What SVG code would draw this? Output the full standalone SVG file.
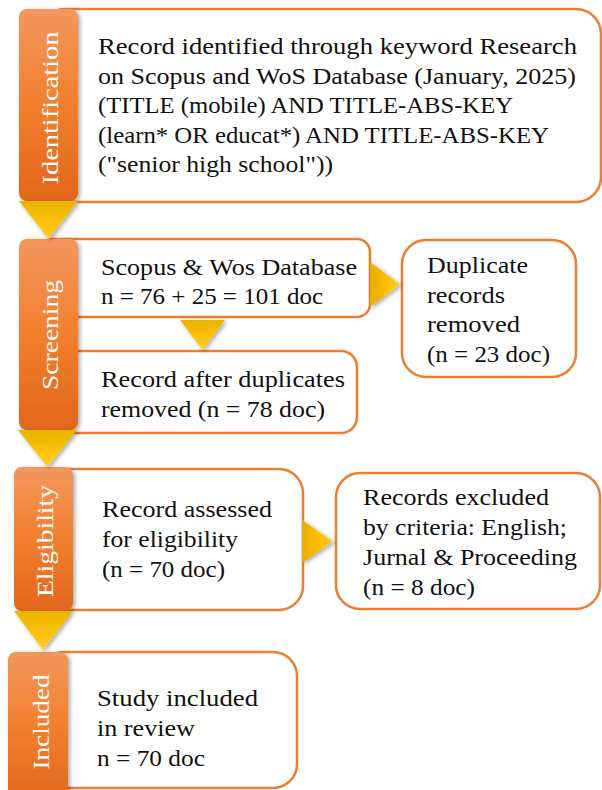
<svg xmlns="http://www.w3.org/2000/svg" width="602" height="790" viewBox="0 0 602 790">
<defs>
<linearGradient id="tabGrad" x1="0" y1="0" x2="0" y2="1">
<stop offset="0" stop-color="#f3975e"/>
<stop offset="0.5" stop-color="#f27f2e"/>
<stop offset="1" stop-color="#e3661b"/>
</linearGradient>
<linearGradient id="triDown" x1="0" y1="0" x2="0" y2="1">
<stop offset="0" stop-color="#e8b400"/>
<stop offset="0.6" stop-color="#ffc20a"/>
<stop offset="1" stop-color="#ffcc33"/>
</linearGradient>
<linearGradient id="triRight" x1="0" y1="0" x2="1" y2="0">
<stop offset="0" stop-color="#e6ae00"/>
<stop offset="0.6" stop-color="#ffc000"/>
<stop offset="1" stop-color="#ffc933"/>
</linearGradient>
<filter id="shadow" x="-30%" y="-10%" width="160%" height="130%">
<feDropShadow dx="2" dy="1.5" stdDeviation="2" flood-color="#000" flood-opacity="0.35"/>
</filter>
</defs>
<style>
.box{fill:#ffffff;stroke:#ed7d31;stroke-width:2.5}
.tab{fill:url(#tabGrad);filter:url(#shadow)}
.tabtxt{font-family:"Liberation Serif","Times New Roman",serif;font-size:24px;fill:#ffffff;text-anchor:middle}
.txt{font-family:"Liberation Serif","Times New Roman",serif;font-size:23.5px;fill:#111111}
.td{fill:url(#triDown);filter:url(#shadow)}
.tr{fill:url(#triRight);filter:url(#shadow)}
</style>

<g id="identification-box">
<rect class="box" x="40" y="9" width="561" height="193" rx="25"/>
<text class="txt" x="98" y="54" textLength="479" lengthAdjust="spacingAndGlyphs">Record identified through keyword Research</text>
<text class="txt" x="98" y="83.5" textLength="478" lengthAdjust="spacingAndGlyphs">on Scopus and WoS Database (January, 2025)</text>
<text class="txt" x="98" y="113" textLength="415" lengthAdjust="spacingAndGlyphs">(TITLE (mobile) AND TITLE-ABS-KEY</text>
<text class="txt" x="98" y="142.5" textLength="451" lengthAdjust="spacingAndGlyphs">(learn* OR educat*) AND TITLE-ABS-KEY</text>
<text class="txt" x="98" y="172" textLength="235" lengthAdjust="spacingAndGlyphs">("senior high school"))</text>
</g>

<g id="screening-database-box">
<rect class="box" x="40" y="239" width="330" height="78" rx="13"/>
<text class="txt" x="101" y="275" textLength="256" lengthAdjust="spacingAndGlyphs">Scopus &amp; Wos Database</text>
<text class="txt" x="101" y="304" textLength="222" lengthAdjust="spacingAndGlyphs">n = 76 + 25 = 101 doc</text>
</g>

<g id="screening-after-duplicates-box">
<rect class="box" x="40" y="351" width="317" height="82" rx="16"/>
<text class="txt" x="101" y="387" textLength="244" lengthAdjust="spacingAndGlyphs">Record after duplicates</text>
<text class="txt" x="101" y="417" textLength="224" lengthAdjust="spacingAndGlyphs">removed (n = 78 doc)</text>
</g>

<g id="duplicates-removed-box">
<rect class="box" x="402" y="240" width="174" height="137" rx="24"/>
<text class="txt" x="427" y="273" textLength="101" lengthAdjust="spacingAndGlyphs">Duplicate</text>
<text class="txt" x="427" y="302.5" textLength="78" lengthAdjust="spacingAndGlyphs">records</text>
<text class="txt" x="427" y="332" textLength="93" lengthAdjust="spacingAndGlyphs">removed</text>
<text class="txt" x="427" y="361.5" textLength="123" lengthAdjust="spacingAndGlyphs">(n = 23 doc)</text>
</g>

<g id="eligibility-box">
<rect class="box" x="40" y="469" width="263" height="141" rx="24"/>
<text class="txt" x="102" y="517" textLength="170" lengthAdjust="spacingAndGlyphs">Record assessed</text>
<text class="txt" x="102" y="547" textLength="136" lengthAdjust="spacingAndGlyphs">for eligibility</text>
<text class="txt" x="102" y="577" textLength="123" lengthAdjust="spacingAndGlyphs">(n = 70 doc)</text>
</g>

<g id="excluded-box">
<rect class="box" x="336" y="473" width="264" height="136" rx="24"/>
<text class="txt" x="363" y="505" textLength="186" lengthAdjust="spacingAndGlyphs">Records excluded</text>
<text class="txt" x="363" y="535" textLength="204" lengthAdjust="spacingAndGlyphs">by criteria: English;</text>
<text class="txt" x="363" y="565" textLength="214" lengthAdjust="spacingAndGlyphs">Jurnal &amp; Proceeding</text>
<text class="txt" x="363" y="595" textLength="112" lengthAdjust="spacingAndGlyphs">(n = 8 doc)</text>
</g>

<g id="included-box">
<rect class="box" x="40" y="652" width="257" height="136" rx="24"/>
<text class="txt" x="97" y="706" textLength="161" lengthAdjust="spacingAndGlyphs">Study included</text>
<text class="txt" x="97" y="736" textLength="98" lengthAdjust="spacingAndGlyphs">in review</text>
<text class="txt" x="97" y="766" textLength="108" lengthAdjust="spacingAndGlyphs">n = 70 doc</text>
</g>

<g id="tab-identification">
<rect class="tab" x="19" y="9" width="59" height="192" rx="8"/>
<text class="tabtxt" transform="translate(57.5,108) rotate(-90)" textLength="153" lengthAdjust="spacingAndGlyphs">Identification</text>
</g>
<g id="tab-screening">
<rect class="tab" x="19" y="239" width="59" height="191" rx="8"/>
<text class="tabtxt" transform="translate(57.5,335) rotate(-90)" textLength="110" lengthAdjust="spacingAndGlyphs">Screening</text>
</g>
<g id="tab-eligibility">
<rect class="tab" x="14" y="467" width="59" height="144" rx="8"/>
<text class="tabtxt" transform="translate(52.5,541) rotate(-90)" textLength="112" lengthAdjust="spacingAndGlyphs">Eligibility</text>
</g>
<g id="tab-included">
<rect class="tab" x="8" y="652" width="60" height="150" rx="8"/>
<text class="tabtxt" transform="translate(49,722) rotate(-90)" textLength="95" lengthAdjust="spacingAndGlyphs">Included</text>
</g>

<g id="connectors">
<polygon class="td" points="19,201 78,201 48.5,239"/>
<polygon class="td" points="18,430 77,430 47.5,467"/>
<polygon class="td" points="14,611 73,611 43,650"/>
<polygon class="td" points="180,320 225,320 202.5,350"/>
<polygon class="tr" points="370,262 370,307 400,284.5"/>
<polygon class="tr" points="302,520 302,563 333,541.5"/>
</g>
</svg>
